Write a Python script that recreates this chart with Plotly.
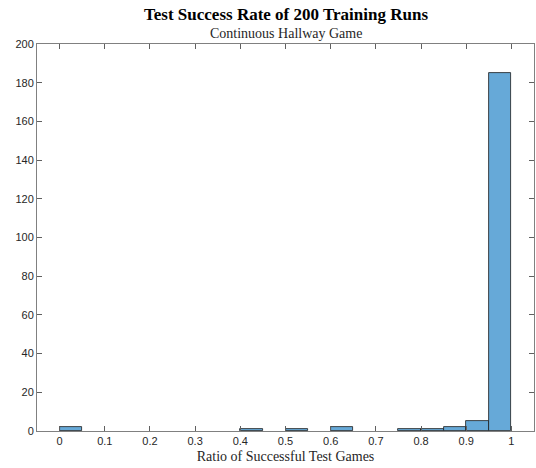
import plotly.graph_objects as go

# Histogram of test success ratios, bins of width 0.05 from 0 to 1
bin_edges = [round(i * 0.05, 2) for i in range(21)]
counts = [2, 0, 0, 0, 0, 0, 0, 0, 1, 0, 1, 0, 2, 0, 0, 1, 1, 2, 5, 185]
x_ticks = [0, 0.1, 0.2, 0.3, 0.4, 0.5, 0.6, 0.7, 0.8, 0.9, 1]
x_tick_text = ["0", "0.1", "0.2", "0.3", "0.4", "0.5", "0.6", "0.7", "0.8", "0.9", "1"]
y_ticks = list(range(0, 201, 20))

centers = [(a + b) / 2 for a, b in zip(bin_edges[:-1], bin_edges[1:])]
widths = [b - a for a, b in zip(bin_edges[:-1], bin_edges[1:])]
# empty bins are left undrawn
heights = [c if c > 0 else None for c in counts]

fig = go.Figure(
    go.Bar(
        x=centers,
        y=heights,
        width=widths,
        marker=dict(color="#66a9d8", line=dict(color="#1a1a1a", width=0.8)),
        showlegend=False,
    )
)

axis_common = dict(
    showline=True,
    linecolor="#808080",
    linewidth=1,
    mirror="ticks",
    ticks="inside",
    ticklen=5,
    tickcolor="#606060",
    tickwidth=1,
    showgrid=False,
    zeroline=False,
    tickfont=dict(family="Liberation Sans, Arial", size=11, color="#262626"),
)

fig.update_layout(
    width=536,
    height=468,
    margin=dict(l=37, r=2, t=44, b=37),
    paper_bgcolor="white",
    plot_bgcolor="white",
    xaxis=dict(
        range=[-0.05, 1.05],
        tickvals=x_ticks,
        ticktext=x_tick_text,
        title=dict(
            text="Ratio of Successful Test Games",
            font=dict(family="Liberation Serif, Times New Roman", size=14, color="#262626"),
            standoff=4,
        ),
        **axis_common,
    ),
    yaxis=dict(
        range=[0, 200],
        tickvals=y_ticks,
        **axis_common,
    ),
    annotations=[
        dict(
            text="<b>Test Success Rate of 200 Training Runs</b>",
            xref="paper", yref="paper", x=0.5, y=1, yshift=30,
            xanchor="center", yanchor="middle", showarrow=False,
            font=dict(family="Liberation Serif, Times New Roman", size=17, color="black"),
        ),
        dict(
            text="Continuous Hallway Game",
            xref="paper", yref="paper", x=0.5, y=1, yshift=11,
            xanchor="center", yanchor="middle", showarrow=False,
            font=dict(family="Liberation Serif, Times New Roman", size=14, color="#262626"),
        ),
    ],
    bargap=0,
)

fig.write_html("out.html")
